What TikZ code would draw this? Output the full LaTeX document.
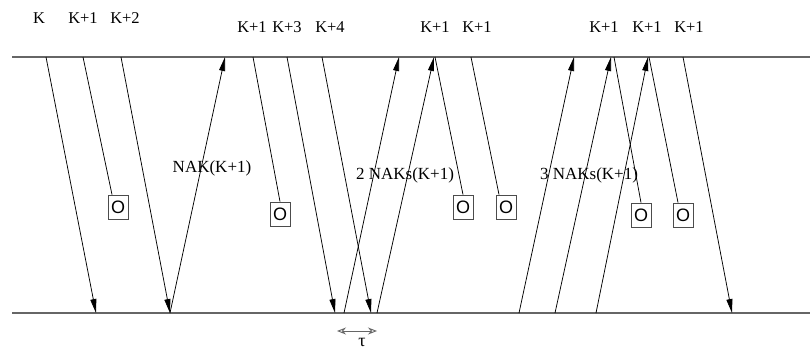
\documentclass[tikz,border=0pt]{standalone}
\usepackage{fontspec}
\setmainfont{Liberation Serif}
\newfontfamily\boitefont{Liberation Sans}
\usetikzlibrary{arrows.meta}
\tikzset{>={Triangle[length=14pt,width=6pt]},every node/.style={font=\fontsize{16.5}{18}\selectfont},
 trame/.style={line width=1.6pt,black!60},msg/.style={line width=.75pt},
 boite/.style={draw=black!70,line width=.8pt,minimum width=20pt,minimum height=24pt,inner sep=0pt,font=\boitefont\fontsize{18}{20}\selectfont},
 nak/.style={font=\fontsize{17}{19}\selectfont},
 delai/.style={<->,line width=.9pt,black!60,>={Stealth[length=9pt,width=7pt,open]}}}

\begin{document}
\begin{tikzpicture}[x=1pt,y=-1pt]
\useasboundingbox (0,0) rectangle (810,349);
% Lignes de l'emetteur (haut) et du recepteur (bas).
\coordinate (hg) at (12,57); \coordinate (hd) at (810,57);
\coordinate (bg) at (12,313); \coordinate (bd) at (810,313);
\draw[trame] (hg)--(hd) (bg)--(bd);
% Numeros des trames emises.
\node (lk) at (39,18){K};
\node (lk1) at (83,18){K+1};
\node (lk2) at (125,18){K+2};
\node (lr1) at (252,27){K+1};
\node (lk3) at (287,27){K+3};
\node (lk4) at (330,27){K+4};
\node (ls1) at (435,27){K+1};
\node (ls2) at (477,27){K+1};
\node (lt1) at (604,27){K+1};
\node (lt2) at (647,27){K+1};
\node (lt3) at (689,27){K+1};
% Trames perdues.
\node[boite] (b1) at (118,207){O};
\node[boite] (b2) at (280,214){O};
\node[boite] (b3) at (463,207){O};
\node[boite] (b4) at (506,207){O};
\node[boite] (b5) at (641,215){O};
\node[boite] (b6) at (683,215){O};
% Extremites des trames.
\coordinate (e1) at (46,57); \coordinate (r1) at (96,313);
\coordinate (e2) at (83,57);
\coordinate (e3) at (121,57); \coordinate (r3) at (170,313);
\coordinate (a1) at (225,57);
\coordinate (e4) at (253,57);
\coordinate (e5) at (287,57); \coordinate (r5) at (335,313);
\coordinate (e6) at (322,57); \coordinate (r6) at (371,313);
\coordinate (d2) at (344,313); \coordinate (a2) at (399,57);
\coordinate (d3) at (377,313); \coordinate (a3) at (434,57);
\coordinate (e7) at (435,57);
\coordinate (e8) at (471,57);
\coordinate (d4) at (519,313); \coordinate (a4) at (574,57);
\coordinate (d5) at (555,313); \coordinate (a5) at (611,57);
\coordinate (d6) at (596,313); \coordinate (a6) at (648,57);
\coordinate (e9) at (614,57);
\coordinate (e10) at (649,57);
\coordinate (e11) at (683,57); \coordinate (r11) at (732,313);
% Trames de donnees.
\draw[msg,->] (e1)--(r1);
\draw[msg] (e2)--([xshift=-6pt]b1.north);
\draw[msg,->] (e3)--(r3);
\draw[msg] (e4)--(b2.north);
\draw[msg,->] (e5)--(r5);
\draw[msg,->] (e6)--(r6);
\draw[msg] (e7)--(b3.north);
\draw[msg] (e8)--([xshift=-7pt]b4.north);
\draw[msg] (e9)--(b5.north);
\draw[msg] (e10)--([xshift=-5pt]b6.north);
\draw[msg,->] (e11)--(r11);
% Acquittements negatifs.
\draw[msg,->] (r3)--(a1);
\draw[msg,->] (d2)--(a2);
\draw[msg,->] (d3)--(a3);
\draw[msg,->] (d4)--(a4);
\draw[msg,->] (d5)--(a5);
\draw[msg,->] (d6)--(a6);
\node[nak] (n1) at (212,168){NAK(K+1)};
\node[nak] (n2) at (405,175){2 NAKs(K+1)};
\node[nak] (n3) at (589,175){3 NAKs(K+1)};
% Ecart entre deux NAK.
\coordinate (t1) at (337,331); \coordinate (t2) at (377,331);
\draw[delai] (t1)--(t2);
\node[font=\fontsize{18}{20}\selectfont] (tau) at (362,342){τ};
\end{tikzpicture}
\end{document}
